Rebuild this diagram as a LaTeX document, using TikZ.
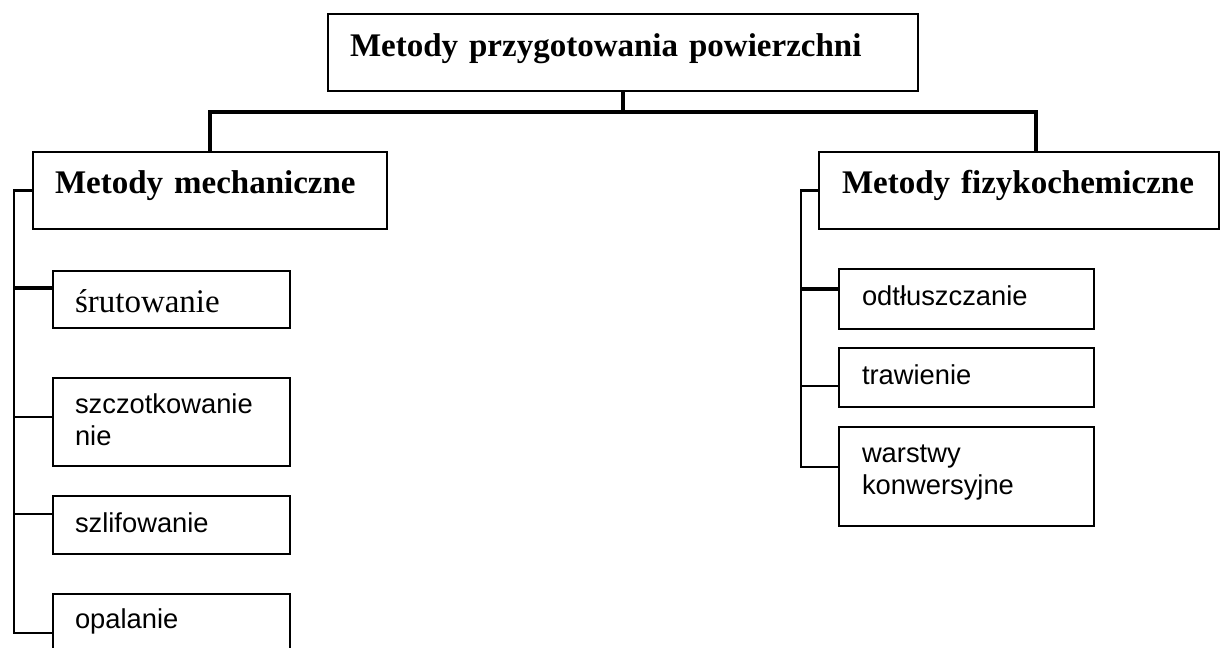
\documentclass[tikz,border=0pt]{standalone}
\usepackage{fontspec}
\setmainfont{Liberation Serif}
\newfontfamily\arialfont{Liberation Sans}
\usetikzlibrary{calc}
\begin{document}
\begin{tikzpicture}[x=0.75pt,y=-0.75pt,
  box/.style={draw=black, line width=2pt, outer sep=0pt, inner ysep=0pt, align=left, anchor=north west},
  headfont/.style={font=\bfseries\fontsize{24.75}{30}\selectfont},
  serifitem/.style={font=\fontsize{24.75}{30}\selectfont},
  sansitem/.style={font=\arialfont\fontsize{20.5}{24.5}\selectfont},
  leftbox/.style={box, text width=144.75pt, inner xsep=16.5pt},
  rightbox/.style={box, text width=156.75pt, inner xsep=17.25pt},
  mainbar/.style={line width=3pt, line join=miter},
  conn/.style={line width=2.1pt, line join=miter},
  thickconn/.style={line width=3pt},
]
\useasboundingbox (0,0) rectangle (1221,647);

% top level
\node[box, headfont, text width=409.5pt, inner xsep=16.5pt, text height=31.5pt, text depth=26.25pt] (T) at (328,14) {Metody przygotowania powierzchni};
\node[box, headfont, text width=232.5pt, inner xsep=16.5pt, text height=30.75pt, text depth=27pt] (M) at (33,152) {Metody mechaniczne};
\node[box, headfont, text width=265.5pt, inner xsep=17.25pt, text height=30.75pt, text depth=27pt] (F) at (819,152) {Metody fizykochemiczne};

% left items
\node[leftbox, serifitem, text height=30.75pt, text depth=12pt] (S1) at (53,271) {śrutowanie};
\node[leftbox, sansitem, text height=26.25pt, text depth=39.75pt] (S2) at (53,378) {szczotkowanie\\nie};
\node[leftbox, sansitem, text height=27pt, text depth=16.5pt] (S3) at (53,496) {szlifowanie};
\node[leftbox, sansitem, text height=25.5pt, text depth=27pt] (S4) at (53,594) {opalanie};

% right items
\node[rightbox, sansitem, text height=27pt, text depth=18pt] (R1) at (839,269) {odtłuszczanie};
\node[rightbox, sansitem, text height=27pt, text depth=17.25pt] (R2) at (839,348) {trawienie};
\node[rightbox, sansitem, text height=26.25pt, text depth=48pt] (R3) at (839,427) {warstwy\\konwersyjne};

% main connectors
\coordinate (J) at (623,112);
\coordinate (Fx) at (1036,152);
\draw[mainbar] (T.south) -- (J);
\draw[mainbar] (M.north) |- (J) -| (Fx);

% left spine
\coordinate (L) at (14,0);
\coordinate (c1) at ($(S1.north west)+(0,17)$);
\coordinate (c2) at ($(S2.north west)+(0,39)$);
\coordinate (c3) at ($(S3.north west)+(0,18)$);
\coordinate (c4) at ($(S4.north west)+(0,39)$);
\draw[conn] (M.west) -| (L |- c4) -- (c4);
\draw[thickconn] (L |- c1) -- (c1);
\draw[conn] (L |- c2) -- (c2);
\draw[conn] (L |- c3) -- (c3);

% right spine
\coordinate (R) at (801,0);
\coordinate (d1) at ($(R1.north west)+(0,20)$);
\coordinate (d2) at ($(R2.north west)+(0,38)$);
\coordinate (d3) at ($(R3.north west)+(0,40)$);
\draw[conn] (F.west) -| (R |- d3) -- (d3);
\draw[thickconn] (R |- d1) -- (d1);
\draw[conn] (R |- d2) -- (d2);
\end{tikzpicture}
\end{document}
